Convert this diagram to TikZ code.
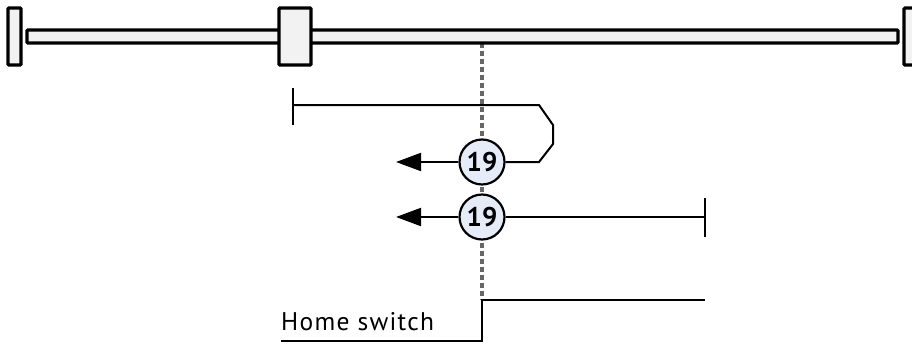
\documentclass[tikz,border=0pt]{standalone}
\usepackage{fontspec}
\setmainfont{PT Sans}
\newfontfamily\lblfont[LetterSpace=5]{PT Sans}
\definecolor{partfill}{HTML}{F2F2F2}
\definecolor{circfill}{HTML}{E6ECF7}
\definecolor{dotgray}{HTML}{666666}
\usetikzlibrary{arrows.meta}
\tikzset{
  part/.style={draw=black,line width=3.2pt,fill=partfill,rounded corners=1pt},
  wire/.style={draw=black,line width=2pt},
  arrowline/.style={wire,-{Triangle[length=25pt,width=18pt]}},
  guide/.style={draw=dotgray,line width=3.2pt,dash pattern=on 5pt off 3pt},
  num/.style={circle,draw=black,line width=2.2pt,fill=circfill,minimum size=45pt,inner sep=0pt,font=\fontsize{27pt}{29pt}\selectfont\bfseries},
  lbl/.style={inner sep=0pt,anchor=base west,font=\fontsize{25.5pt}{28pt}\lblfont}
}
\begin{document}
\begin{tikzpicture}[x=1pt,y=-1pt]
\useasboundingbox (0,0) rectangle (912,343);
\coordinate (gt) at (482,43);
\coordinate (gb) at (482,300);
\draw[guide] (gt) -- (gb);
\node[part,minimum width=871pt,minimum height=13pt,inner sep=0pt] (bar) at (462.5,36.5) {};
\node[part,minimum width=13pt,minimum height=57pt,inner sep=0pt] (stopl) at (14.5,36.5) {};
\node[part,minimum width=13pt,minimum height=57pt,inner sep=0pt] (stopr) at (910.5,36.5) {};
\node[part,minimum width=32pt,minimum height=57pt,inner sep=0pt] (cart) at (295,36.5) {};
\node[num] (n1) at (482,162) {19};
\node[num] (n2) at (482,217) {19};
\coordinate (t1a) at (293,88);
\coordinate (t1b) at (293,125);
\coordinate (t1m) at (293,105);
\coordinate (t2a) at (705,198);
\coordinate (t2b) at (705,237);
\coordinate (t2m) at (705,217);
\coordinate (a1) at (396,162);
\coordinate (a2) at (396,217);
\coordinate (s1) at (281,341);
\coordinate (s2) at (482,341);
\coordinate (s3) at (482,300);
\coordinate (s4) at (705,300);
\draw[wire] (t1a) -- (t1b);
\draw[wire] (t2a) -- (t2b);
\draw[wire] (t1m) -- (539,105) -- (553,125) -- (553,144) -- (539,162) -- (n1.east);
\draw[wire] (n2.east) -- (t2m);
\draw[arrowline] (n1.west) -- (a1);
\draw[arrowline] (n2.west) -- (a2);
\draw[wire] (s1) -- (s2) -- (s3) -- (s4);
\node[lbl] (home) at (281,330) {Home switch};
\end{tikzpicture}
\end{document}
